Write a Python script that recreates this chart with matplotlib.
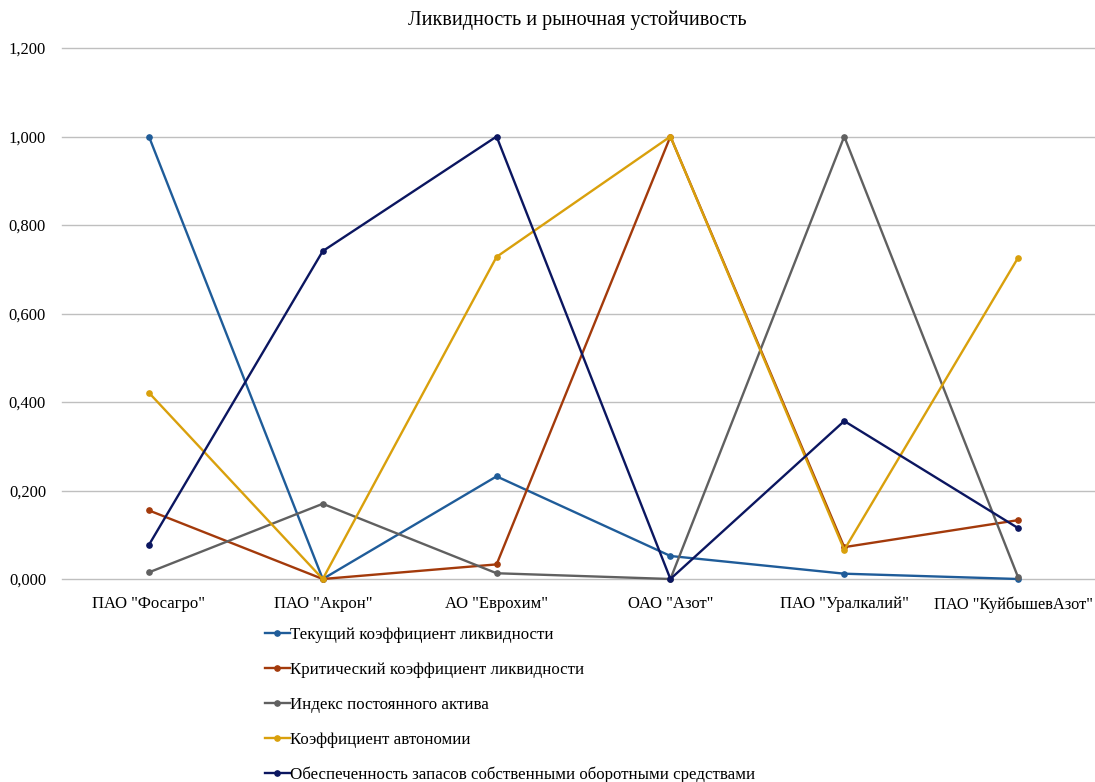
import matplotlib
matplotlib.use("Agg")
import matplotlib.pyplot as plt
import matplotlib.transforms as mtransforms
from matplotlib.ticker import FuncFormatter

plt.rcParams['font.family'] = ['Liberation Serif', 'DejaVu Serif']

categories = ['ПАО "Фосагро"', 'ПАО "Акрон"', 'АО "Еврохим"', 'ОАО "Азот"',
              'ПАО "Уралкалий"', 'ПАО "КуйбышевАзот"']

series_names = [
    'Текущий коэффициент ликвидности',
    'Критический коэффициент ликвидности',
    'Индекс постоянного актива',
    'Коэффициент автономии',
    'Обеспеченность запасов собственными оборотными средствами',
]

current_ratio = [1.000, 0.000, 0.232, 0.052, 0.012, 0.000]
quick_ratio = [0.155, 0.000, 0.033, 1.000, 0.072, 0.133]
fixed_asset_index = [0.015, 0.170, 0.013, 0.000, 1.000, 0.004]
autonomy_ratio = [0.421, 0.000, 0.728, 1.000, 0.066, 0.726]
inventory_coverage = [0.077, 0.741, 1.000, 0.000, 0.357, 0.115]

series_values = [current_ratio, quick_ratio, fixed_asset_index,
                 autonomy_ratio, inventory_coverage]
colors = ['#1F5C99', '#A33A0B', '#606060', '#D9A00C', '#0B1660']

yticks = [0.0, 0.2, 0.4, 0.6, 0.8, 1.0, 1.2]

fig = plt.figure(figsize=(10.95, 7.82), dpi=100)
ax = fig.add_axes([62/1095, 1-579/782, 1043/1095, (579-48)/782])

x = list(range(len(categories)))
for name, vals, c in zip(series_names, series_values, colors):
    ax.plot(x, vals, color=c, lw=1.7, marker='o', markersize=3.8, label=name,
            zorder=3, clip_on=False)

ax.set_xlim(-0.5, len(categories) - 0.5)
ax.set_ylim(0, 1.2)
ax.set_yticks(yticks)
ax.yaxis.set_major_formatter(FuncFormatter(lambda v, p: f"{v:.3f}".replace('.', ',')))
ax.set_xticks(x)
ax.set_xticklabels(categories)
ax.grid(axis='y', color='#BFBFBF', lw=1.0, zorder=0)
for gl in ax.get_ygridlines():
    gl.set_clip_on(False)
ax.set_axisbelow(True)
for s in ax.spines.values():
    s.set_visible(False)
ax.tick_params(axis='both', length=0, labelsize=12, colors='#000000')
ax.tick_params(axis='y', pad=11.5)
ax.tick_params(axis='x', pad=12.5)
last = ax.get_xticklabels()[-1]
last.set_fontsize(11.8)
last.set_transform(last.get_transform() +
                   mtransforms.ScaledTranslation(-5/100, 0, fig.dpi_scale_trans))

fig.text(577/1095, 1-20/782, 'Ликвидность и рыночная устойчивость',
         ha='center', va='center', fontsize=14.5)

handles, labels = ax.get_legend_handles_labels()
fig.legend(handles, labels, loc='upper left', bbox_to_anchor=(265/1095, 1-627/782),
           frameon=False, fontsize=12.2, labelspacing=1.12, handlelength=1.45,
           handletextpad=0.05, borderaxespad=0, borderpad=0)

fig.savefig('out.png', dpi=100)
